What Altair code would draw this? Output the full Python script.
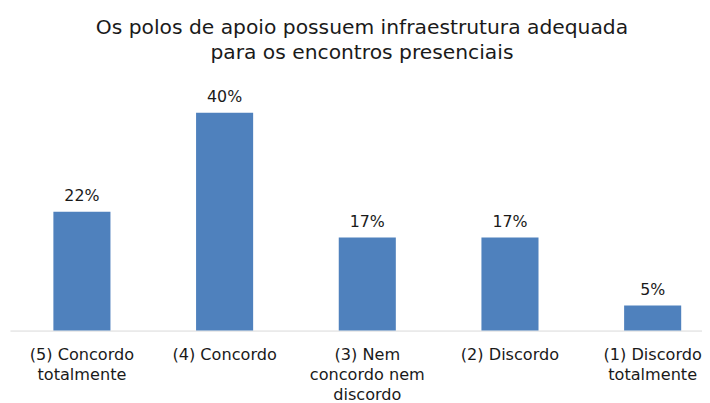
import altair as alt
import pandas as pd

categories = [
    "(5) Concordo\ntotalmente",
    "(4) Concordo",
    "(3) Nem\nconcordo nem\ndiscordo",
    "(2) Discordo",
    "(1) Discordo\ntotalmente",
]
values = [21.8, 40.0, 17.1, 17.1, 4.6]
labels = ["22%", "40%", "17%", "17%", "5%"]

df = pd.DataFrame({"cat": categories, "val": values, "lab": labels})

FONT = "DejaVu Sans"

x = alt.X(
    "cat:N",
    sort=categories,
    title=None,
    scale=alt.Scale(paddingInner=0.6, paddingOuter=0.225, align=0.676),
    axis=alt.Axis(
        labelExpr="split(datum.value, '\\n')",
        labelAngle=0,
        labelFont=FONT,
        labelFontSize=16.3,
        labelColor="#1a1a1a",
        labelLineHeight=20.3,
        labelBaseline="alphabetic",
        labelPadding=29,
        ticks=False,
        domainColor="#d9d9d9",
        domainWidth=1,
        grid=False,
        labelLimit=200,
    ),
)
y = alt.Y("val:Q", scale=alt.Scale(domain=[0, 45]), axis=None)

bars = alt.Chart(df).mark_bar(color="#4F81BD").encode(x=x, y=y)
text = alt.Chart(df).mark_text(
    baseline="alphabetic", dy=-11, font=FONT, fontSize=16, color="#1a1a1a"
).encode(x=x, y=y, text="lab:N")

chart = (
    alt.layer(bars, text)
    .properties(
        width=700,
        height=248,
        title=alt.TitleParams(
            ["Os polos de apoio possuem infraestrutura adequada",
             "para os encontros presenciais"],
            font=FONT,
            fontSize=20.5,
            fontWeight="normal",
            color="#1a1a1a",
            anchor="middle",
            dx=6,
            lineHeight=25.5,
            offset=22,
        ),
        autosize=alt.AutoSizeParams(type="none"),
        padding={"left": 2, "right": 0, "top": 76, "bottom": 74},
    )
    .configure(background="white")
    .configure_view(strokeWidth=0, stroke="transparent")
)

chart.save("out.html", embed_options={"renderer": "svg", "actions": False})
